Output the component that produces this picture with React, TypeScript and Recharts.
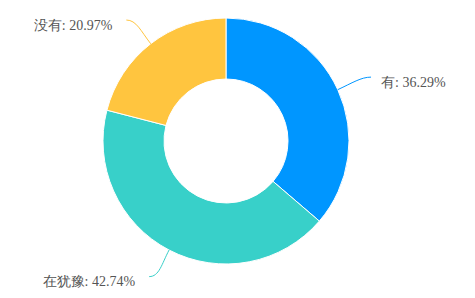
import React from "react";
import { PieChart, Pie, Cell } from "recharts";

const categories = ["有", "在犹豫", "没有"];
const percents = [36.29, 42.74, 20.97];
const colors = ["#0096FF", "#38D0C9", "#FFC53F"];

const data = categories.map((name, i) => ({ name, value: percents[i] }));

const RAD = Math.PI / 180;

const renderLabel = (props: any) => {
  const { cx, cy, midAngle, outerRadius, index, name, value } = props;
  const cos = Math.cos(-midAngle * RAD);
  const sin = Math.sin(-midAngle * RAD);
  const dir = cos >= 0 ? 1 : -1;
  const sx = cx + outerRadius * cos;
  const sy = cy + outerRadius * sin;
  const c1x = cx + (outerRadius + 16) * cos;
  const c1y = cy + (outerRadius + 16) * sin;
  const ex = cx + (outerRadius + 30) * cos + dir * 6;
  const ey = cy + (outerRadius + 30) * sin;
  const c2x = ex - dir * 10;
  const c2y = ey;
  return (
    <g>
      <path
        d={`M${sx},${sy} C${c1x},${c1y} ${c2x},${c2y} ${ex},${ey}`}
        stroke={colors[index]}
        strokeWidth={1}
        fill="none"
      />
      <text
        x={ex + dir * (dir > 0 ? 10 : 14)}
        y={ey + 5}
        textAnchor={dir > 0 ? "start" : "end"}
        dominantBaseline="central"
        fill="#555555"
        fontSize={14}
        style={{ fontFamily: "'Liberation Serif', 'Times New Roman', 'DejaVu Serif', serif" }}
      >
        {`${name}: ${value.toFixed(2)}%`}
      </text>
    </g>
  );
};

export default function App() {
  return (
    <div style={{ position: "absolute", left: 0, top: 0 }}>
      <PieChart width={475} height={298} margin={{ top: 0, right: 0, bottom: 0, left: 0 }}>
        <Pie
          data={data}
          dataKey="value"
          nameKey="name"
          cx={226}
          cy={141}
          innerRadius={62}
          outerRadius={123}
          startAngle={90}
          endAngle={-270}
          stroke="#ffffff"
          strokeWidth={1}
          label={renderLabel}
          labelLine={false}
          isAnimationActive={false}
        >
          {data.map((d, i) => (
            <Cell key={d.name} fill={colors[i]} />
          ))}
        </Pie>
      </PieChart>
    </div>
  );
}
